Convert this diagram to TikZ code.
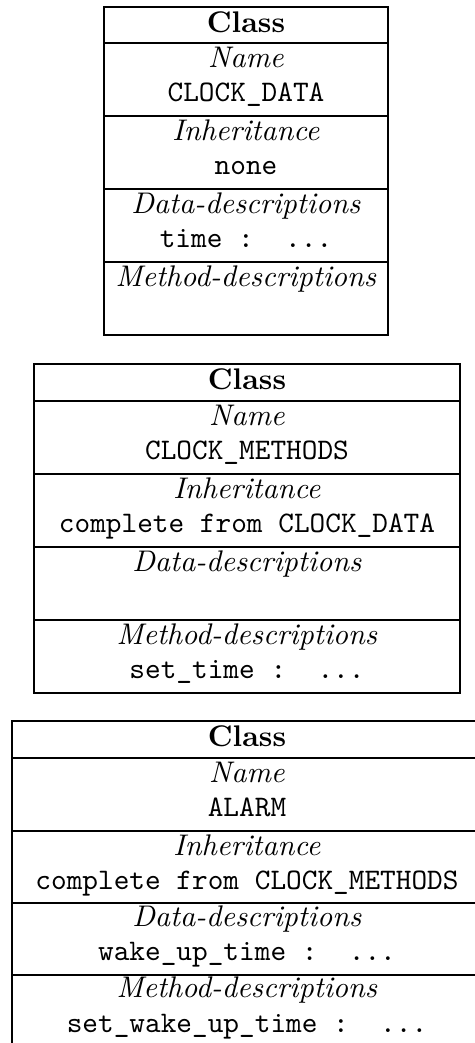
\documentclass[tikz,border=0pt]{standalone}
\begin{document}
\begin{tikzpicture}[x=0.335pt,y=-0.335pt]
\useasboundingbox (0,0) rectangle (475,1043);
\clip (0,0) rectangle (475,1043);
% class CLOCK_DATA
\begin{scope}[line width=0.5pt]
\draw (104,7) rectangle (388,335);
\draw (104,43) -- (388,43);
\draw (104,116) -- (388,116);
\draw (104,189) -- (388,189);
\draw (104,262) -- (388,262);
\end{scope}
\begin{scope}[every node/.style={anchor=base}]
\path (246,32)  node (cls1) {\textbf{Class}};
\path (246,67)  node (nam1) {\textit{Name}};
\path (246,101) node (namv1) {\texttt{CLOCK\_DATA}};
\path (246,140) node (inh1) {\textit{Inheritance}};
\path (246,174) node (inhv1) {\texttt{none}};
\path (246,213) node (dat1) {\textit{Data-descriptions}};
\path (246,247) node (datv1) {\texttt{time :~~...}};
\path (246,286) node (met1) {\textit{Method-descriptions}};
\end{scope}
% class CLOCK_METHODS
\begin{scope}[line width=0.5pt]
\draw (34,364) rectangle (460,693);
\draw (34,401) -- (460,401);
\draw (34,474) -- (460,474);
\draw (34,547) -- (460,547);
\draw (34,620) -- (460,620);
\end{scope}
\begin{scope}[every node/.style={anchor=base}]
\path (247,389) node (cls2) {\textbf{Class}};
\path (247,425) node (nam2) {\textit{Name}};
\path (247,459) node (namv2) {\texttt{CLOCK\_METHODS}};
\path (247,498) node (inh2) {\textit{Inheritance}};
\path (247,532) node (inhv2) {\texttt{complete from CLOCK\_DATA}};
\path (247,571) node (dat2) {\textit{Data-descriptions}};
\path (247,644) node (met2) {\textit{Method-descriptions}};
\path (247,678) node (metv2) {\texttt{set\_time :~~...}};
\end{scope}
% class ALARM
\begin{scope}[line width=0.5pt]
\draw (12,721) rectangle (482,1048);
\draw (12,758) -- (482,758);
\draw (12,831) -- (482,831);
\draw (12,903) -- (482,903);
\draw (12,975) -- (482,975);
\end{scope}
\begin{scope}[every node/.style={anchor=base}]
\path (247,746)  node (cls3) {\textbf{Class}};
\path (247,782)  node (nam3) {\textit{Name}};
\path (247,816)  node (namv3) {\texttt{ALARM}};
\path (247,855)  node (inh3) {\textit{Inheritance}};
\path (247,889)  node (inhv3) {\texttt{complete from CLOCK\_METHODS}};
\path (247,926)  node (dat3) {\textit{Data-descriptions}};
\path (247,960)  node (datv3) {\texttt{wake\_up\_time :~~...}};
\path (247,997)  node (met3) {\textit{Method-descriptions}};
\path (247,1032) node (metv3) {\texttt{set\_wake\_up\_time :~~...}};
\end{scope}
\end{tikzpicture}
\end{document}
